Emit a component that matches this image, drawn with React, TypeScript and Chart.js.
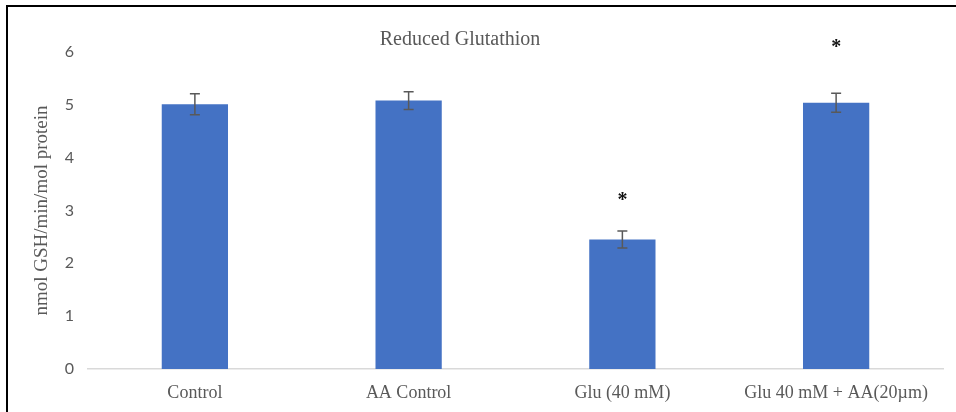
import React, { useEffect, useRef } from "react";
import { Chart, registerables } from "chart.js";

Chart.register(...registerables);

const categories = ["Control", "AA Control", "Glu (40 mM)", "Glu 40 mM + AA(20\u00b5m)"];
const values = [5.01, 5.08, 2.45, 5.04];
const errors = [0.2, 0.17, 0.16, 0.18];
const sigLabels = ["", "", "*", "*"];
const sigPositions = [null, null, 3.26, 6.15];
const chartTitle = "Reduced Glutathion";
const yTitle = "nmol GSH/min/mol protein";

const errorBarPlugin = {
  id: "errorBars",
  afterDatasetsDraw(chart: any) {
    const ctx = chart.ctx;
    const meta = chart.getDatasetMeta(0);
    const y = chart.scales.y;
    ctx.save();
    ctx.strokeStyle = "#595959";
    ctx.lineWidth = 1.5;
    meta.data.forEach((bar: any, i: number) => {
      const x = bar.x;
      const top = y.getPixelForValue(values[i] + errors[i]);
      const bot = y.getPixelForValue(values[i] - errors[i]);
      ctx.beginPath();
      ctx.moveTo(x, top);
      ctx.lineTo(x, bot);
      ctx.moveTo(x - 5, top);
      ctx.lineTo(x + 5, top);
      ctx.moveTo(x - 5, bot);
      ctx.lineTo(x + 5, bot);
      ctx.stroke();
    });
    ctx.fillStyle = "#111";
    ctx.font = "bold 20px 'Liberation Serif', serif";
    ctx.textAlign = "center";
    ctx.textBaseline = "middle";
    meta.data.forEach((bar: any, i: number) => {
      const p = sigPositions[i];
      if (p != null && sigLabels[i]) {
        ctx.fillText(sigLabels[i], bar.x, y.getPixelForValue(p) + 4);
      }
    });
    ctx.restore();
  },
};

const titlePlugin = {
  id: "innerTitle",
  afterDraw(chart: any) {
    const ctx = chart.ctx;
    ctx.save();
    ctx.fillStyle = "#595959";
    ctx.font = "20px 'Liberation Serif', serif";
    ctx.textAlign = "center";
    ctx.textBaseline = "middle";
    ctx.fillText(chartTitle, chart.width / 2 - 22, chart.chartArea.top - 12);
    ctx.restore();
  },
};

export default function App() {
  const ref = useRef<HTMLCanvasElement>(null);
  useEffect(() => {
    const chart = new Chart(ref.current as HTMLCanvasElement, {
      type: "bar",
      data: {
        labels: categories,
        datasets: [
          {
            data: values,
            backgroundColor: "#4472C4",
            borderWidth: 0,
            barPercentage: 1,
            categoryPercentage: 0.31,
          },
        ],
      },
      options: {
        animation: false,
        responsive: false,
        layout: { padding: { left: 0, top: 45, right: 13, bottom: 0 } },
        plugins: {
          legend: { display: false },
          tooltip: { enabled: false },
          title: { display: false },
        },
        scales: {
          x: {
            grid: { display: false },
            border: { display: true, color: "#d9d9d9", width: 1.5 },
            ticks: {
              color: "#595959",
              font: { family: "'Liberation Serif', serif", size: 18 },
              padding: 5,
              maxRotation: 0,
            },
            afterFit(scale: any) {
              scale.height = 43;
            },
          },
          y: {
            min: 0,
            max: 6,
            ticks: {
              stepSize: 1,
              color: "#595959",
              font: { family: "Lato, 'Open Sans', sans-serif", size: 16 },
              padding: 14,
            },
            grid: { display: false, drawTicks: false },
            border: { display: false },
            title: {
              display: true,
              text: yTitle,
              color: "#595959",
              font: { family: "'Liberation Serif', serif", size: 19 },
              padding: { top: 23, bottom: 0 },
            },
            afterFit(scale: any) {
              scale.width = 80;
            },
          },
        },
      },
      plugins: [errorBarPlugin, titlePlugin],
    });
    return () => chart.destroy();
  }, []);

  return (
    <div
      style={{
        position: "absolute",
        left: 6,
        top: 5,
        width: 950,
        height: 407,
        borderLeft: "2px solid #000",
        borderTop: "2px solid #000",
        background: "#fff",
        overflow: "hidden",
      }}
    >
      <canvas ref={ref} width={948} height={405} style={{ display: "block" }} />
    </div>
  );
}
